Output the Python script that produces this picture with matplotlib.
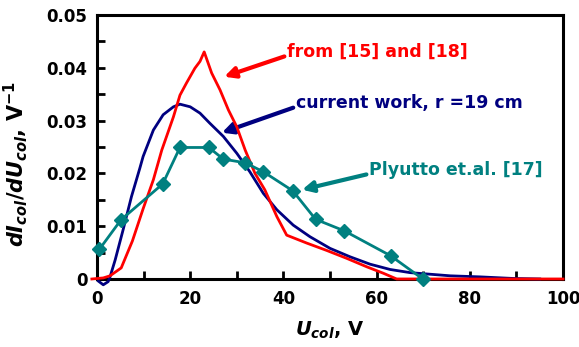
import matplotlib.pyplot as plt
import numpy as np

plt.rcParams['font.family'] = 'DejaVu Sans'
plt.rcParams['font.weight'] = 'bold'
plt.rcParams['mathtext.fontset'] = 'custom'
plt.rcParams['mathtext.it'] = 'DejaVu Sans:bold:italic'
plt.rcParams['mathtext.rm'] = 'DejaVu Sans:bold'
plt.rcParams['mathtext.bf'] = 'DejaVu Sans:bold'

# "from [15] and [18]"
red_x = [-1.1, 1.35, 2.8, 5.2, 7.6, 9.9, 12.1, 13.9, 16.4, 17.8, 19.2, 21.0, 22.1, 23.0,
         24.6, 26.4, 28.2, 30.0, 31.8, 33.9, 36.0, 38.6, 40.7, 45.0, 49.3, 53.6, 57.9,
         61.4, 64.3, 100]
red_y = [0, 0.0002, 0.0006, 0.0021, 0.0072, 0.0133, 0.0188, 0.0244, 0.0307, 0.0348,
         0.0371, 0.0399, 0.0412, 0.0430, 0.0390, 0.0358, 0.0320, 0.0288, 0.0244, 0.0200,
         0.0169, 0.0118, 0.0083, 0.0068, 0.0054, 0.0039, 0.0023, 0.0011, 0, 0]

# current work, r = 19 cm
blue_x = [0.3, 1.35, 2.4, 2.8, 3.9, 5.6, 7.4, 9.2, 9.9, 12.1, 14.2, 16.4, 17.8, 20.0,
          22.1, 24.2, 27.1, 30.0, 32.8, 35.7, 38.6, 42.1, 45.7, 50.0, 54.3, 58.6, 62.9,
          67.2, 71.5, 75.8, 82.2, 89.3, 95]
blue_y = [-0.0004, -0.0011, -0.0005, 0.0004, 0.0036, 0.0093, 0.0156, 0.0210, 0.0232,
          0.0282, 0.0311, 0.0326, 0.0331, 0.0326, 0.0314, 0.0295, 0.0270, 0.0238, 0.0203,
          0.0162, 0.0131, 0.0102, 0.0080, 0.0058, 0.0042, 0.0028, 0.0018, 0.0012, 0.0009,
          0.0006, 0.0004, 0.0001, 0]

# Plyutto et.al. [17]
teal_x = [0.5, 5.15, 14.1, 17.8, 24.0, 27.1, 31.8, 35.7, 42.0, 46.9, 53.1, 63.0, 69.9]
teal_y = [0.0056, 0.0112, 0.0180, 0.0249, 0.0249, 0.0227, 0.0220, 0.0203, 0.0167,
          0.0113, 0.0091, 0.0044, 0.0]

red = '#FF0000'
navy = '#000080'
teal = '#008080'

fig = plt.figure(figsize=(5.79, 3.47), dpi=100)
ax = fig.add_axes([0.1675, 0.196, 0.805, 0.761])

ax.plot(blue_x, blue_y, color=navy, lw=2.0, clip_on=False, zorder=3)
ax.plot(red_x, red_y, color=red, lw=2.0, clip_on=False, zorder=3.1)
ax.plot(teal_x, teal_y, color=teal, lw=2.0, marker='D', ms=7, clip_on=False, zorder=4)

ax.set_xlim(0, 100)
ax.set_ylim(0, 0.05)
ax.set_xticks(np.arange(0, 101, 20))
ax.set_xticks(np.arange(10, 100, 20), minor=True)
ax.set_yticks([0, 0.01, 0.02, 0.03, 0.04, 0.05])
ax.set_yticklabels(['0', '0.01', '0.02', '0.03', '0.04', '0.05'])
ax.set_yticks(np.arange(0.005, 0.05, 0.01), minor=True)
ax.tick_params(which='both', direction='in', length=6, width=2, labelsize=12,
               top=False, right=False)
ax.tick_params(axis='x', pad=8)
ax.tick_params(axis='y', pad=7)
for s in ax.spines.values():
    s.set_linewidth(2.2)

ax.set_xlabel(r'$U_{col}$, V', fontsize=14, fontweight='bold')
ax.xaxis.set_label_coords(0.5, -0.155)
ax.set_ylabel(r'$dI_{col}/dU_{col}$, V$^{-1}$', fontsize=15, fontweight='bold')
ax.yaxis.set_label_coords(-0.144, 0.436)

arrow = dict(arrowstyle='-|>', lw=3, mutation_scale=16, shrinkA=0, shrinkB=0)
ax.annotate('from [15] and [18]', xy=(27.3, 0.0383), xytext=(40.8, 0.043),
            color=red, fontsize=12.5, va='center', ha='left',
            arrowprops=dict(arrow, color=red, relpos=(0, 0.3)))
ax.annotate('current work, r =19 cm', xy=(26.8, 0.0277), xytext=(42.7, 0.0333),
            color=navy, fontsize=12.5, va='center', ha='left',
            arrowprops=dict(arrow, color=navy, relpos=(0, 0.3)))
ax.annotate('Plyutto et.al. [17]', xy=(44.0, 0.0169), xytext=(58.4, 0.0206),
            color=teal, fontsize=12.5, va='center', ha='left',
            arrowprops=dict(arrow, color=teal, relpos=(0, 0.3)))

fig.savefig('out.png', dpi=100)
